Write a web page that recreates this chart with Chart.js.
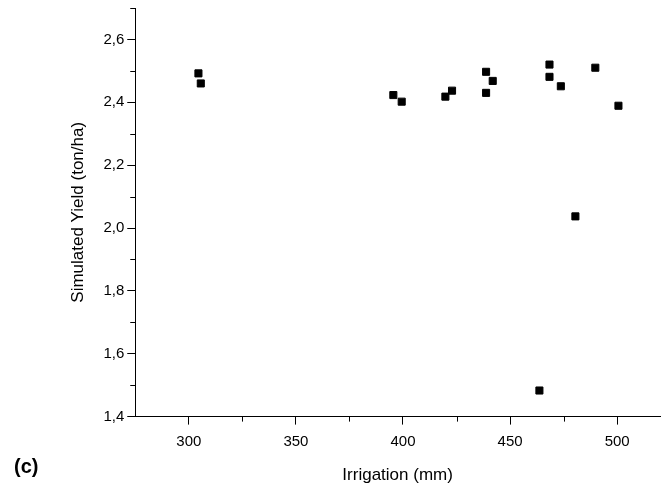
<!DOCTYPE html>
<html>
<head>
<meta charset="utf-8">
<script src="https://cdn.jsdelivr.net/npm/chart.js@4"></script>
<style>
  html, body { margin: 0; padding: 0; background: #fff; }
  #wrap { position: relative; width: 662px; height: 487px; }
  #panel { position: absolute; left: 14px; top: 455px; font: bold 20px "Liberation Sans", Arial, sans-serif; color: #000; }
</style>
</head>
<body>
<div id="wrap">
  <canvas id="chart" width="662" height="487"></canvas>
  <div id="panel">(c)</div>
</div>
<script>
// Irrigation (mm) vs simulated yield (ton/ha)
const irrigation = [304.5, 305.6, 395.5, 399.4, 419.8, 422.9, 438.8, 441.9, 438.8, 468.4, 468.4, 473.7, 489.8, 500.6, 480.5, 463.7];
const yieldTon   = [2.492, 2.460, 2.423, 2.402, 2.418, 2.437, 2.497, 2.468, 2.430, 2.520, 2.481, 2.451, 2.510, 2.389, 2.037, 1.483];

const xTicks = [300, 350, 400, 450, 500];
const xMinor = [325, 375, 425, 475];
const yTicks = [1.4, 1.6, 1.8, 2.0, 2.2, 2.4, 2.6];
const yMinor = [1.5, 1.7, 1.9, 2.1, 2.3, 2.5, 2.7];

const points = irrigation.map((x, i) => ({ x: x, y: yieldTon[i] }));

// Origin style short minor ticks, outside the axes
const minorTicks = {
    id: 'minorTicks',
    afterDraw(chart) {
        const ctx = chart.ctx;
        const xs = chart.scales.x, ys = chart.scales.y;
        ctx.save();
        ctx.strokeStyle = '#000';
        ctx.lineWidth = 1;
        ctx.beginPath();
        xMinor.forEach(v => {
            const px = Math.round(xs.getPixelForValue(v)) + 0.5;
            ctx.moveTo(px, ys.bottom);
            ctx.lineTo(px, ys.bottom + 5);
        });
        yMinor.forEach(v => {
            const py = Math.round(ys.getPixelForValue(v)) + 0.5;
            ctx.moveTo(xs.left, py);
            ctx.lineTo(xs.left - 5, py);
        });
        ctx.stroke();
        ctx.restore();
    }
};

const family = '"Liberation Sans", Arial, sans-serif';

new Chart(document.getElementById('chart').getContext('2d'), {
    type: 'scatter',
    data: {
        datasets: [{
            data: points,
            pointStyle: 'rect',
            pointRadius: 5,
            pointBorderWidth: 1,
            pointBorderColor: '#000',
            pointBackgroundColor: '#000'
        }]
    },
    options: {
        responsive: false,
        animation: false,
        plugins: {
            legend: { display: false },
            tooltip: { enabled: false }
        },
        layout: {
            autoPadding: false,
            padding: { top: 8, right: 2, bottom: 0, left: 64 }
        },
        scales: {
            x: {
                type: 'linear',
                min: 275,
                max: 520,
                afterBuildTicks: (scale) => { scale.ticks = xTicks.map(v => ({ value: v })); },
                ticks: {
                    color: '#000',
                    font: { family: family, size: 15 },
                    padding: 8,
                    maxRotation: 0,
                    callback: (v) => String(v)
                },
                grid: {
                    drawOnChartArea: false,
                    tickLength: 8,
                    tickColor: '#000'
                },
                border: { color: '#000', width: 1 },
                title: {
                    display: true,
                    text: 'Irrigation (mm)',
                    color: '#000',
                    font: { family: family, size: 17 },
                    padding: { top: 7, bottom: 1 }
                }
            },
            y: {
                type: 'linear',
                min: 1.4,
                max: 2.7,
                afterBuildTicks: (scale) => { scale.ticks = yTicks.map(v => ({ value: v })); },
                // top tick (2,6) sits well below the axis end, no label padding needed there
                afterFit: (scale) => { scale.paddingTop = 0; },
                ticks: {
                    color: '#000',
                    font: { family: family, size: 15 },
                    padding: 3,
                    callback: (v) => v.toFixed(1).replace('.', ',')
                },
                grid: {
                    drawOnChartArea: false,
                    tickLength: 8,
                    tickColor: '#000'
                },
                border: { color: '#000', width: 1 },
                title: {
                    display: true,
                    text: 'Simulated Yield (ton/ha)',
                    color: '#000',
                    font: { family: family, size: 17 },
                    padding: { top: 4, bottom: 12 }
                }
            }
        }
    },
    plugins: [minorTicks]
});
</script>
</body>
</html>
